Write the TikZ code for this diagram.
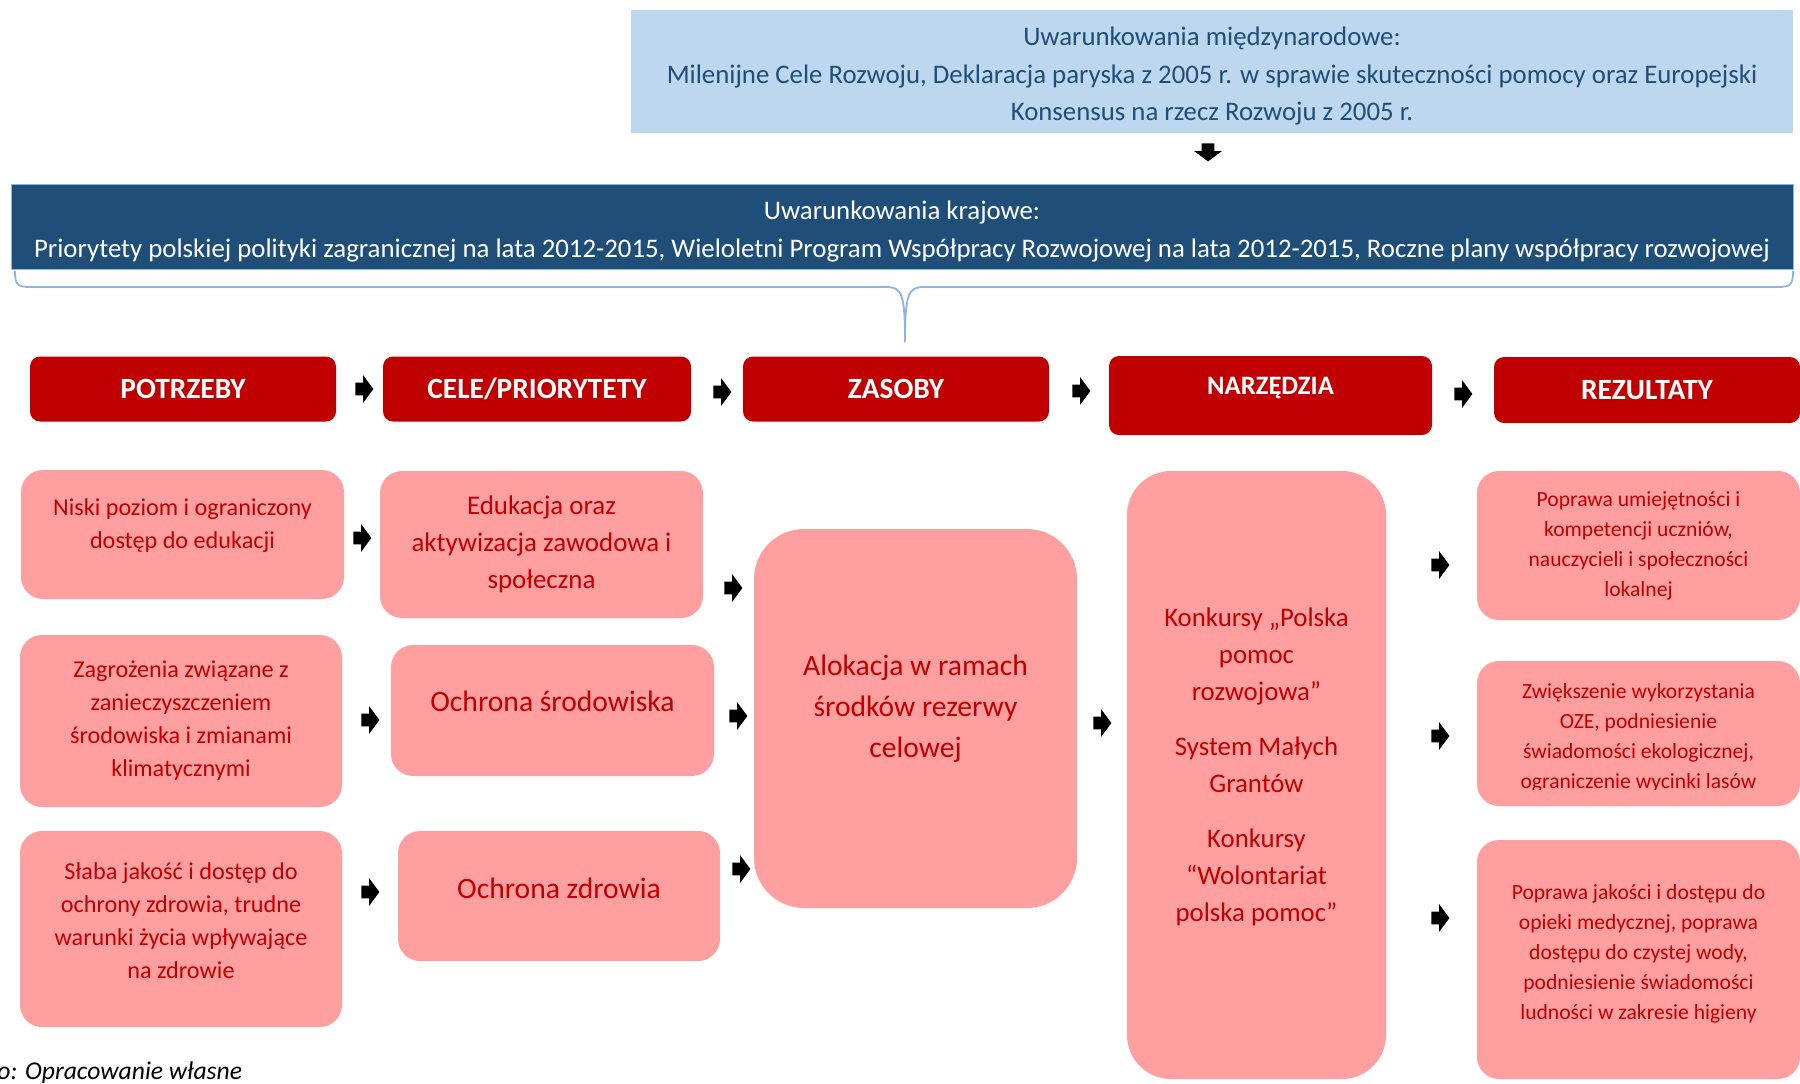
\documentclass[tikz,border=0pt]{standalone}
\usepackage{fontspec}
\setmainfont{Carlito}
\usetikzlibrary{shapes.arrows,positioning}

\definecolor{intfill}{HTML}{BDD7EE}
\definecolor{inttext}{HTML}{1F4E79}
\definecolor{natfill}{HTML}{1F4E79}
\definecolor{bracecol}{HTML}{8DB4E2}
\definecolor{headred}{HTML}{C00000}
\definecolor{pinkfill}{HTML}{FF9F9F}
\definecolor{pinktext}{HTML}{C00000}

\tikzset{
  headbox/.style={fill=headred, rounded corners=5pt, text=white, inner sep=0pt,
    font=\bfseries\fontsize{14.7}{17}\selectfont},
  pinkbox/.style={fill=pinkfill, rounded corners=11pt, text=pinktext, align=center, inner sep=0pt},
  pinktxt/.style={text=pinktext, align=center, inner sep=0pt},
  needfont/.style={font=\fontsize{12.1}{16.5}\selectfont},
  goalfont/.style={font=\fontsize{14.8}{18.5}\selectfont},
  rezfont/.style={font=\fontsize{10.8}{15}\selectfont},
  blockarr/.style={single arrow, fill=black, inner sep=0pt, text height=6pt, text depth=0pt,
    minimum height=9pt, single arrow head extend=3.75pt, single arrow tip angle=107},
}

\begin{document}
\begin{tikzpicture}[x=0.5pt,y=-0.5pt]
\useasboundingbox (0,0) rectangle (1800,1083);

% uwarunkowania
\node[fill=intfill, inner sep=0pt, minimum width=581pt, minimum height=61.5pt] (intl) at (1212,71.5) {};
\node[text=inttext, align=center, inner sep=0pt, font=\fontsize{13.4}{18.7}\selectfont] (intlt) at (1212,76)
  {Uwarunkowania międzynarodowe:\\
   Milenijne Cele Rozwoju, Deklaracja paryska z 2005 r. w sprawie skuteczności pomocy oraz Europejski\\
   Konsensus na rzecz Rozwoju z 2005 r.};
\node[blockarr, rotate=-90] (adown) at (1208,150) {};
\node[fill=natfill, draw=bracecol, line width=0.4pt, inner sep=0pt,
  minimum width=891pt, minimum height=42.5pt] (nat) at (902,226.5) {};
\node[text=white, align=center, inner sep=0pt, font=\fontsize{13.4}{19}\selectfont] (natt) at (902,231)
  {Uwarunkowania krajowe:\\
   Priorytety polskiej polityki zagranicznej na lata 2012-2015, Wieloletni Program Współpracy Rozwojowej na lata 2012-2015, Roczne plany współpracy rozwojowej};
\draw[bracecol, line width=0.9pt] (15,271) .. controls (15,284) and (17,287) .. (30,287) -- (886,287)
  .. controls (902,287) and (905,294) .. (905,342);
\draw[bracecol, line width=0.9pt] (1793,271) .. controls (1793,284) and (1791,287) .. (1778,287) -- (924,287)
  .. controls (908,287) and (905,294) .. (905,342);

% naglowki
\node[headbox, minimum width=153pt, minimum height=32.5pt] (potrzeby) at (183,389) {POTRZEBY};
\node[headbox, minimum width=154pt, minimum height=32.5pt] (cele) at (537,389) {CELE/PRIORYTETY};
\node[headbox, minimum width=153pt, minimum height=32.5pt] (zasoby) at (896,389) {ZASOBY};
\node[headbox, minimum width=161.5pt, minimum height=39.5pt] (narz) at (1270.5,395.5) {};
\node[text=white, inner sep=0pt, font=\bfseries\fontsize{13.3}{16}\selectfont] (narzt) at (1270.5,388) {NARZĘDZIA};
\node[headbox, minimum width=153pt, minimum height=33pt] (rez) at (1647,390) {REZULTATY};
\node[blockarr] (h1) at (362,389) {};
\node[blockarr] (h2) at (720,392) {};
\node[blockarr] (h3) at (1079,391) {};
\node[blockarr] (h4) at (1461,394) {};

% potrzeby
\node[pinkbox, minimum width=161.5pt, minimum height=64.5pt] (n1) at (182.5,534.5) {};
\node[pinktxt, needfont] (n1t) at (182.5,526) {Niski poziom i ograniczony\\ dostęp do edukacji};
\node[pinkbox, needfont, minimum width=161pt, minimum height=86pt] (n2) at (181,721)
  {Zagrożenia związane z\\ zanieczyszczeniem\\ środowiska i zmianami\\ klimatycznymi};
\node[pinkbox, minimum width=161pt, minimum height=98pt] (n3) at (181,929) {};
\node[pinktxt, needfont] (n3t) at (181,921)
  {Słaba jakość i dostęp do\\ ochrony zdrowia, trudne\\ warunki życia wpływające\\ na zdrowie};

% cele
\node[pinkbox, font=\fontsize{13.45}{18.4}\selectfont, minimum width=161.5pt, minimum height=73.5pt] (c1) at (541.5,544.5)
  {Edukacja oraz\\ aktywizacja zawodowa i\\ społeczna};
\node[pinkbox, minimum width=161.5pt, minimum height=65.5pt] (c2) at (552.5,710.5) {};
\node[pinktxt, goalfont] (c2t) at (552.5,701) {Ochrona środowiska};
\node[pinkbox, minimum width=161pt, minimum height=65pt] (c3) at (559,896) {};
\node[pinktxt, goalfont] (c3t) at (559,888) {Ochrona zdrowia};
\node[blockarr] (l1) at (360,538) {};
\node[blockarr] (l2) at (368,720) {};
\node[blockarr] (l3) at (368,892) {};
\node[blockarr] (m1) at (731,588) {};
\node[blockarr] (m2) at (736,716) {};
\node[blockarr] (m3) at (739,869) {};

% zasoby i narzedzia
\node[pinkbox, rounded corners=25pt, minimum width=161.5pt, minimum height=189.5pt] (zas) at (915.5,718.5) {};
\node[pinktxt, font=\fontsize{14.8}{20.5}\selectfont] (zast) at (915.5,709)
  {Alokacja w ramach\\ środków rezerwy\\ celowej};
\node[blockarr] (z1) at (1100,723) {};
\node[pinkbox, rounded corners=22pt, minimum width=129.5pt, minimum height=304pt] (nbox) at (1256.5,775) {};
\node[pinktxt, font=\fontsize{13.4}{18.5}\selectfont] (nboxt) at (1256.5,767)
  {Konkursy „Polska\\ pomoc\\ rozwojowa”\\[9pt]
   System Małych\\ Grantów\\[9pt]
   Konkursy\\ “Wolontariat\\ polska pomoc”};
\node[blockarr] (t1) at (1438,565) {};
\node[blockarr] (t2) at (1438,736) {};
\node[blockarr] (t3) at (1438,918) {};

% rezultaty
\node[pinkbox, rezfont, minimum width=161.5pt, minimum height=74.5pt] (r1) at (1638.5,545.5)
  {Poprawa umiejętności i\\ kompetencji uczniów,\\ nauczycieli i społeczności\\ lokalnej};
\node[pinkbox, minimum width=161.5pt, minimum height=72.5pt] (r2) at (1638.5,733.5) {};
\begin{scope}
\clip (1477,661) rectangle (1800,789);
\node[pinktxt, rezfont] (r2t) at (1638.5,738)
  {Zwiększenie wykorzystania\\ OZE, podniesienie\\ świadomości ekologicznej,\\ ograniczenie wycinki lasów};
\end{scope}
\node[pinkbox, minimum width=161.5pt, minimum height=119.5pt] (r3) at (1638.5,959.5) {};
\node[pinktxt, rezfont] (r3t) at (1638.5,954)
  {Poprawa jakości i dostępu do\\ opieki medycznej, poprawa\\ dostępu do czystej wody,\\ podniesienie świadomości\\ ludności w zakresie higieny};

\node[anchor=base west, inner sep=0pt, font=\itshape\fontsize{12.8}{15}\selectfont] (zrodlo) at (-3,1079) {o: Opracowanie własne};
\end{tikzpicture}
\end{document}
